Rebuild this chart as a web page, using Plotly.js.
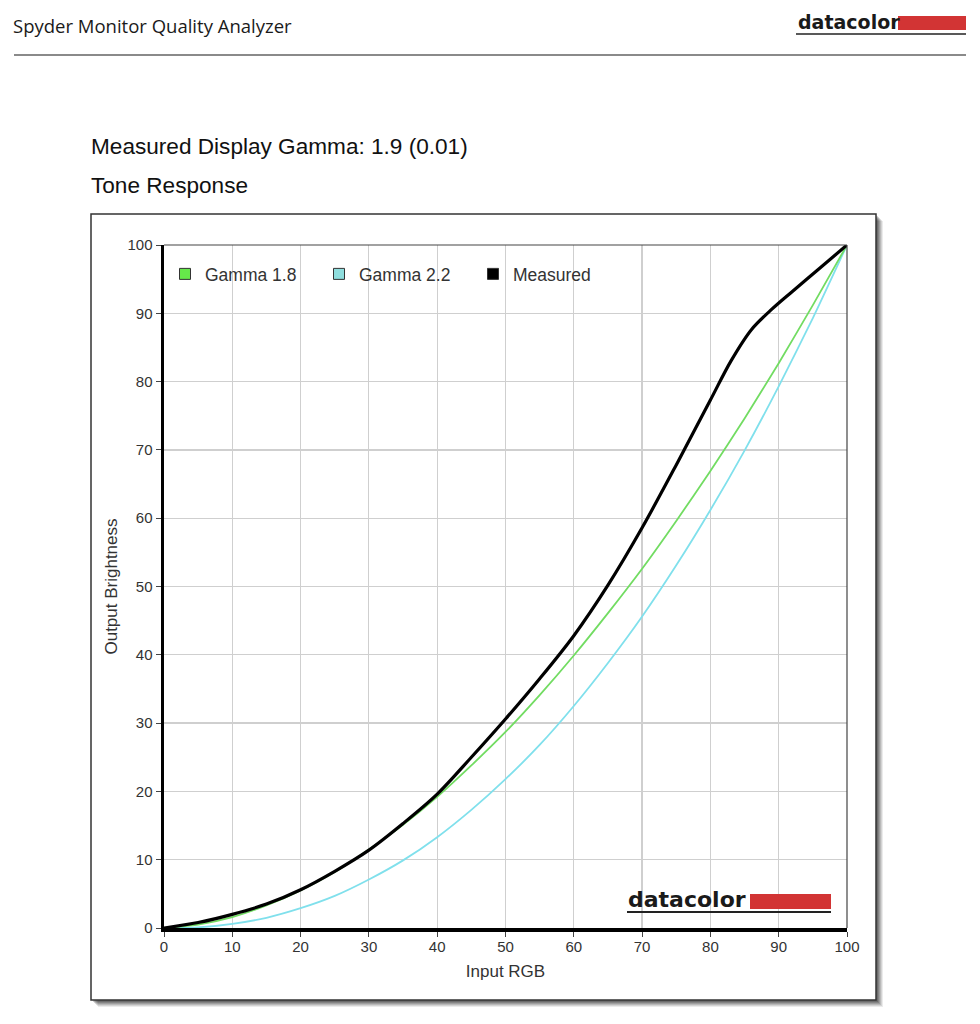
<!DOCTYPE html>
<html>
<head>
<meta charset="utf-8">
<script src="https://cdn.plot.ly/plotly-3.0.1.min.js"></script>
<style>
  html, body { margin: 0; padding: 0; background: #ffffff; }
  #chart { width: 980px; height: 1024px; }
</style>
</head>
<body>
<div id="chart"></div>
<script>
// ---- Data ----
const inputRGB = [0, 5, 10, 15, 20, 25, 30, 35, 40, 45, 50, 55, 60, 65, 70, 75, 80, 85, 90, 95, 100];
const gamma18 = [0, 0.5, 1.6, 3.3, 5.5, 8.2, 11.5, 15.1, 19.2, 23.8, 28.7, 34.1, 39.9, 46.1, 52.6, 59.6, 66.9, 74.6, 82.7, 91.2, 100];
const gamma22 = [0, 0.1, 0.6, 1.5, 2.9, 4.7, 7.1, 9.9, 13.3, 17.3, 21.8, 26.8, 32.5, 38.8, 45.6, 53.1, 61.2, 69.9, 79.3, 89.3, 100];
const measuredInput = [0, 5, 10, 15, 20, 25, 30, 35, 40, 45, 50, 55, 60, 65, 70, 75, 80, 83, 86, 89, 92, 96, 100];
const measured = [0, 0.8, 2.0, 3.5, 5.6, 8.3, 11.4, 15.3, 19.6, 25.0, 30.6, 36.5, 42.8, 50.2, 58.6, 67.8, 77.3, 83.0, 87.6, 90.6, 93.2, 96.6, 100];
const seriesNames = ['Gamma 1.8', 'Gamma 2.2', 'Measured'];
const seriesColors = ['#72dc62', '#80e0ec', '#000000'];
const legendFill = ['#66e84a', '#8fdede', '#000000'];
const tickValues = [0, 10, 20, 30, 40, 50, 60, 70, 80, 90, 100];
const pageTitle = 'Spyder Monitor Quality Analyzer';
const gammaLine = 'Measured Display Gamma: 1.9 (0.01)';
const chartTitle = 'Tone Response';
const brand = 'datacolor';
const xTitle = 'Input RGB';
const yTitle = 'Output Brightness';

// ---- Layout geometry (pixel -> paper conversion) ----
const W = 980, H = 1024;
const L = 164, R = 847, T = 245, B = 928;
const PW = R - L, PH = B - T;
const X = px => (px - L) / PW;
const Y = py => (B - py) / PH;

const traces = [
  { x: inputRGB, y: gamma22, mode: 'lines', name: seriesNames[1], showlegend: false,
    line: { color: seriesColors[1], width: 1.8, shape: 'spline', smoothing: 0.6 }, hoverinfo: 'x+y+name' },
  { x: inputRGB, y: gamma18, mode: 'lines', name: seriesNames[0], showlegend: false,
    line: { color: seriesColors[0], width: 1.8, shape: 'spline', smoothing: 0.6 }, hoverinfo: 'x+y+name' },
  { x: measuredInput, y: measured, mode: 'lines', name: seriesNames[2], showlegend: false,
    line: { color: seriesColors[2], width: 3.2, shape: 'spline', smoothing: 0.9 }, hoverinfo: 'x+y+name' }
];
// legend entries (square swatches as in the reference)
seriesNames.forEach((n, i) => {
  traces.push({ x: [null], y: [null], mode: 'markers', name: n, showlegend: true,
    marker: { symbol: 'square', size: 11, color: legendFill[i], line: { color: '#333', width: 1 } } });
});

const shapes = [];
// header rule
shapes.push({ type: 'line', xref: 'paper', yref: 'paper', x0: X(14), x1: X(966), y0: Y(55), y1: Y(55),
  line: { color: '#8a8a8a', width: 2 }, layer: 'below' });
// header logo bar + underline
shapes.push({ type: 'rect', xref: 'paper', yref: 'paper', x0: X(898), x1: X(966), y0: Y(30), y1: Y(16),
  fillcolor: '#d23434', line: { width: 0 }, layer: 'below' });
shapes.push({ type: 'line', xref: 'paper', yref: 'paper', x0: X(796), x1: X(966), y0: Y(34), y1: Y(34),
  line: { color: '#222', width: 1.5 }, layer: 'below' });
// chart box shadow
[[7, 0.08], [6, 0.10], [5, 0.12], [4, 0.14], [3, 0.16], [2, 0.18]].forEach(([o, a]) => {
  shapes.push({ type: 'rect', xref: 'paper', yref: 'paper', x0: X(91 + o), x1: X(876 + o), y0: Y(1000 + o), y1: Y(214 + o),
    fillcolor: 'rgba(0,0,0,' + a + ')', line: { width: 0 }, layer: 'below' });
});
// chart box
shapes.push({ type: 'rect', xref: 'paper', yref: 'paper', x0: X(91), x1: X(876), y0: Y(1000), y1: Y(214),
  fillcolor: '#ffffff', line: { color: '#333', width: 1.5 }, layer: 'below' });
// thin top/right frame of plot area
shapes.push({ type: 'line', xref: 'paper', yref: 'paper', x0: 0, x1: 1, y0: 1, y1: 1, line: { color: '#444', width: 1.2 }, layer: 'above' });
shapes.push({ type: 'line', xref: 'paper', yref: 'paper', x0: 1, x1: 1, y0: 0, y1: 1, line: { color: '#444', width: 1.2 }, layer: 'above' });
// in-plot logo bar + underline
shapes.push({ type: 'rect', xref: 'paper', yref: 'paper', x0: X(750), x1: X(831), y0: Y(909), y1: Y(894),
  fillcolor: '#d23434', line: { width: 0 }, layer: 'above' });
shapes.push({ type: 'line', xref: 'paper', yref: 'paper', x0: X(627), x1: X(831), y0: Y(912), y1: Y(912),
  line: { color: '#222', width: 2 }, layer: 'above' });

const annotations = [
  { text: pageTitle, xref: 'paper', yref: 'paper', x: X(11), y: Y(25), xanchor: 'left', yanchor: 'middle', showarrow: false,
    font: { family: 'Open Sans, Noto Sans, sans-serif', size: 18.5, color: '#1a1a1a' } },
  { text: '<b>' + brand + '</b>', xref: 'paper', yref: 'paper', x: X(796), y: Y(22), xanchor: 'left', yanchor: 'middle', showarrow: false,
    font: { family: 'DejaVu Sans, sans-serif', size: 19, color: '#1a1a1a' } },
  { text: gammaLine, xref: 'paper', yref: 'paper', x: X(89), y: Y(146), xanchor: 'left', yanchor: 'middle', showarrow: false,
    font: { family: 'Arial, Liberation Sans, sans-serif', size: 22.6, color: '#111' } },
  { text: chartTitle, xref: 'paper', yref: 'paper', x: X(89), y: Y(185), xanchor: 'left', yanchor: 'middle', showarrow: false,
    font: { family: 'Arial, Liberation Sans, sans-serif', size: 22.6, color: '#111' } },
  { text: '<b>' + brand + '</b>', xref: 'paper', yref: 'paper', x: X(626), y: Y(899), xanchor: 'left', yanchor: 'middle', showarrow: false,
    font: { family: 'DejaVu Sans, sans-serif', size: 22, color: '#1a1a1a' } }
];

const axisCommon = {
  range: [0, 100], tickvals: tickValues, showgrid: true, gridcolor: '#cfcfcf', gridwidth: 1.2,
  zeroline: false, showline: true, linecolor: '#000', linewidth: 3.5,
  ticks: 'outside', ticklen: 5, tickcolor: '#444', tickwidth: 1,
  tickfont: { family: 'Arial, Liberation Sans, sans-serif', size: 15, color: '#333' },
  fixedrange: true
};

const layout = {
  width: W, height: H,
  margin: { l: L, r: W - R, t: T, b: H - B, pad: 0 },
  paper_bgcolor: '#ffffff', plot_bgcolor: 'rgba(0,0,0,0)',
  xaxis: Object.assign({}, axisCommon, {
    ticklabelstandoff: -3,
    title: { text: xTitle, standoff: 12, font: { family: 'Arial, Liberation Sans, sans-serif', size: 17, color: '#333' } }
  }),
  yaxis: Object.assign({}, axisCommon, {
    title: { text: yTitle, standoff: 6, font: { family: 'Arial, Liberation Sans, sans-serif', size: 17, color: '#333' } }
  }),
  showlegend: true,
  legend: { orientation: 'h', x: X(165), y: Y(256), xanchor: 'left', yanchor: 'top',
    bgcolor: 'rgba(0,0,0,0)', borderwidth: 0, entrywidth: 109, itemwidth: 30,
    font: { family: 'Arial, Liberation Sans, sans-serif', size: 17.5, color: '#333' } },
  shapes: shapes,
  annotations: annotations
};

Plotly.newPlot('chart', traces, layout, { displayModeBar: false, staticPlot: true });
</script>
</body>
</html>
